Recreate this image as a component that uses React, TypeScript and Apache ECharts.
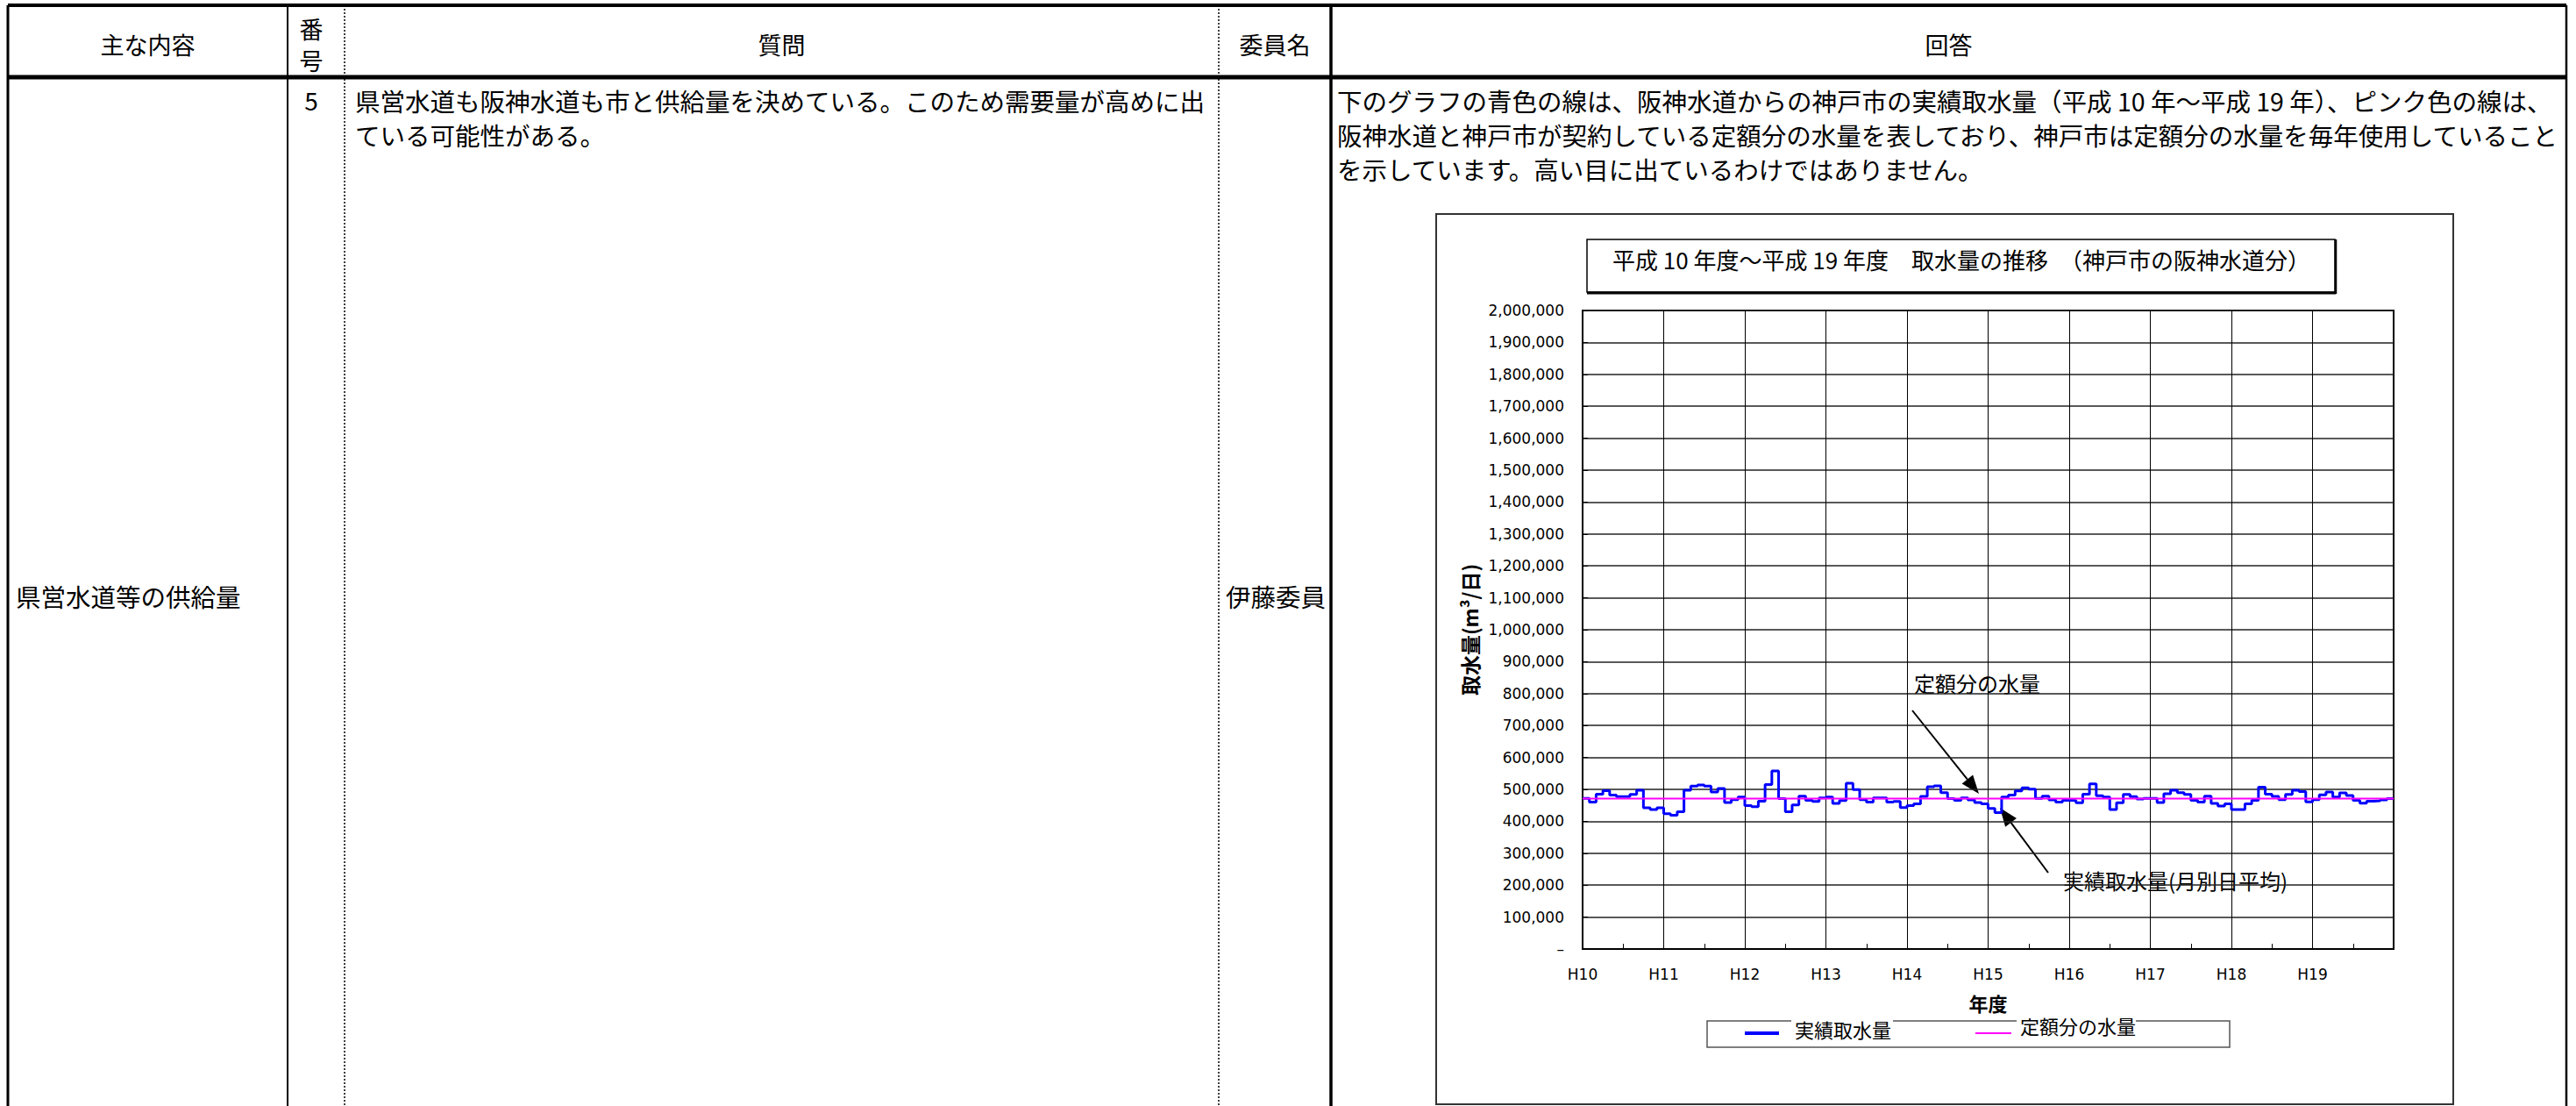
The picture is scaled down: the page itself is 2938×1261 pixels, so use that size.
import React, { useEffect, useRef } from 'react';
import * as echarts from 'echarts';

// ---- data (thousand m3/day, monthly average, April..March) ----
const yearLabels = ['H10', 'H11', 'H12', 'H13', 'H14', 'H15', 'H16', 'H17', 'H18', 'H19'];
const h10 = [472, 460, 485, 496, 482, 477, 477, 484, 497, 442, 437, 442];
const h11 = [424, 419, 430, 497, 510, 514, 510, 492, 503, 459, 468, 476];
const h12 = [449, 446, 463, 515, 558, 471, 430, 451, 479, 466, 462, 473];
const h13 = [476, 456, 465, 519, 499, 468, 460, 473, 473, 460, 462, 443];
const h14 = [449, 455, 478, 508, 511, 490, 471, 466, 473, 467, 459, 455];
const h15 = [440, 427, 476, 482, 495, 505, 501, 472, 479, 467, 460, 466];
const h16 = [465, 458, 485, 517, 480, 476, 437, 458, 484, 477, 470, 472];
const h17 = [472, 459, 486, 497, 490, 484, 466, 460, 479, 456, 448, 455];
const h18 = [437, 437, 455, 466, 507, 485, 478, 468, 484, 497, 493, 461];
const h19 = [468, 483, 492, 476, 489, 481, 466, 457, 463, 464, 467, 471];
const fixedAmount = 471000;
const yMax = 2000000;
const yStep = 100000;

const seriesNames = ['実績取水量', '定額分の水量'];
const chartTitle = '平成 10 年度～平成 19 年度　取水量の推移　（神戸市の阪神水道分）';
const yAxisName = '取水量(m³/日)';
const xAxisName = '年度';

const headerTexts = ['主な内容', '質問', '委員名', '回答'];
const questionLines = ['県営水道も阪神水道も市と供給量を決めている。このため需要量が高めに出', 'ている可能性がある。'];
const answerLines = [
  '下のグラフの青色の線は、阪神水道からの神戸市の実績取水量（平成 10 年～平成 19 年）、ピンク色の線は、',
  '阪神水道と神戸市が契約している定額分の水量を表しており、神戸市は定額分の水量を毎年使用していること',
  'を示しています。高い目に出ているわけではありません。',
];

const JP = '"Noto Sans CJK JP", sans-serif';
const NUM = '"DejaVu Sans", Verdana, sans-serif';

function ln(x1: number, y1: number, x2: number, y2: number, w: number, dash?: number[], color = '#000') {
  return { type: 'line', silent: true, shape: { x1, y1, x2, y2 }, style: { stroke: color, lineWidth: w, lineDash: dash } };
}
function tx(text: string, x: number, y: number, size: number, align = 'left', font = JP, weight = 'normal') {
  return {
    type: 'text', silent: true, x, y,
    style: { text, fontSize: size, fontFamily: font, fontWeight: weight, fill: '#000', align, verticalAlign: 'middle' },
  };
}
function arrow(sx: number, sy: number, ex: number, ey: number) {
  const dx = ex - sx, dy = ey - sy;
  const len = Math.sqrt(dx * dx + dy * dy);
  const ux = dx / len, uy = dy / len;
  const L = 21, W = 8;
  const bx = ex - ux * L, by = ey - uy * L;
  return [
    ln(sx, sy, bx, by, 2),
    {
      type: 'polygon', silent: true,
      shape: { points: [[ex, ey], [bx - uy * W, by + ux * W], [bx + uy * W, by - ux * W]] },
      style: { fill: '#000' },
    },
  ];
}

export default function App() {
  const ref = useRef<HTMLDivElement>(null);
  useEffect(() => {
    const chart = echarts.init(ref.current!, null, { renderer: 'svg' });
    const monthly = [...h10, ...h11, ...h12, ...h13, ...h14, ...h15, ...h16, ...h17, ...h18, ...h19];
    const actual: number[][] = monthly.map((v, i) => [i, v * 1000]);
    actual.push([monthly.length, monthly[monthly.length - 1] * 1000]);
    const fixed = [[0, fixedAmount], [monthly.length, fixedAmount]];

    const tableTop = 6, headerBottom = 88, H = 1261;
    const colX = [9, 328, 393, 1390, 1518, 2927];
    const numCx = 355;

    const elements: any[] = [
      // table borders
      ln(colX[0], tableTop, colX[5], tableTop, 4),
      ln(colX[0], headerBottom, colX[5], headerBottom, 5),
      ln(colX[0], tableTop, colX[0], H, 3),
      ln(colX[1], tableTop, colX[1], H, 2),
      ln(colX[2], tableTop, colX[2], H, 1.5, [2, 2]),
      ln(colX[3], tableTop, colX[3], H, 1.5, [2, 2]),
      ln(colX[4], tableTop, colX[4], H, 3.5),
      ln(colX[5], tableTop, colX[5], H, 2.5),
      // header texts
      tx(headerTexts[0], (colX[0] + colX[1]) / 2, 50, 27, 'center'),
      tx('番', numCx, 32, 27, 'center'),
      tx('号', numCx, 68, 27, 'center'),
      tx(headerTexts[1], (colX[2] + colX[3]) / 2, 50, 27, 'center'),
      tx(headerTexts[2], (colX[3] + colX[4]) / 2, 50, 27, 'center'),
      tx(headerTexts[3], (colX[4] + colX[5]) / 2, 50, 27, 'center'),
      // body
      tx('5', numCx, 114, 28, 'center'),
      tx(questionLines[0], 405, 114, 28.5),
      tx(questionLines[1], 405, 153, 28.5),
      tx('県営水道等の供給量', 18, 679, 28.5),
      tx('伊藤委員', 1398, 679, 28.5),
      tx(answerLines[0], 1525, 114, 28.5),
      tx(answerLines[1], 1525, 153, 28.5),
      tx(answerLines[2], 1525, 192, 28.5),
      // chart frame
      { type: 'rect', silent: true, shape: { x: 1638, y: 244, width: 1160, height: 1015 }, style: { fill: 'none', stroke: '#333', lineWidth: 2 } },
      // title box
      { type: 'rect', silent: true, shape: { x: 1810, y: 273, width: 853, height: 60 }, style: { fill: '#fff', stroke: '#000', lineWidth: 1.5 } },
      ln(1810, 334, 2664, 334, 3),
      ln(2664, 273, 2664, 335, 2.5),
      tx(chartTitle, 2237, 295, 26, 'center'),
      // legend
      { type: 'rect', silent: true, shape: { x: 1947, y: 1164, width: 596, height: 30 }, style: { fill: '#fff', stroke: '#555', lineWidth: 1.5 } },
      ln(1990, 1178, 2029, 1178, 4, undefined, '#0000ff'),
      ln(2253, 1178, 2294, 1178, 2, undefined, '#ff00ff'),
      { type: 'rect', silent: true, shape: { x: 2043, y: 1160, width: 116, height: 8 }, style: { fill: '#fff' } },
      { type: 'rect', silent: true, shape: { x: 2300, y: 1160, width: 136, height: 8 }, style: { fill: '#fff' } },
      tx(seriesNames[0], 2047, 1173, 22),
      tx(seriesNames[1], 2304, 1169, 22),
      // annotations
      tx('定額分の水量', 2183, 778, 24),
      tx('実績取水量(月別日平均)', 2353, 1003, 24),
      ...arrow(2181, 810, 2257, 905),
      ...arrow(2336, 995, 2281, 921),
    ];

    chart.setOption({
      animation: false,
      backgroundColor: '#fff',
      grid: {
        left: 1805, top: 354, width: 925, height: 728,
        show: true, borderColor: '#000', borderWidth: 2, backgroundColor: 'transparent',
      },
      xAxis: {
        type: 'value', min: 0, max: monthly.length, interval: 12,
        name: xAxisName, nameLocation: 'middle', nameGap: 50,
        nameTextStyle: { fontFamily: JP, fontSize: 22, fontWeight: 'bold', color: '#000' },
        axisLine: { show: true, lineStyle: { color: '#000', width: 2 } },
        axisTick: { show: true, inside: true, length: 6, lineStyle: { color: '#000' } },
        minorTick: { show: true, splitNumber: 2, length: 6, lineStyle: { color: '#000', width: 1 } },
        axisLabel: {
          formatter: (v: number) => yearLabels[v / 12] ?? '',
          color: '#000', fontSize: 17, fontFamily: NUM, margin: 20,
        },
        splitLine: { show: true, lineStyle: { color: '#000', width: 1 } },
      },
      yAxis: {
        type: 'value', min: 0, max: yMax, interval: yStep,
        name: yAxisName, nameLocation: 'middle', nameGap: 118,
        nameTextStyle: { fontFamily: JP, fontSize: 23, fontWeight: 'bold', color: '#000' },
        axisLine: { show: true, lineStyle: { color: '#000', width: 2 } },
        axisTick: { show: true, inside: true, length: 6, lineStyle: { color: '#000' } },
        axisLabel: {
          formatter: (v: number) => (v === 0 ? '–' : v.toLocaleString('en-US')),
          color: '#000', fontSize: 17, fontFamily: NUM, margin: 21,
        },
        splitLine: { show: true, lineStyle: { color: '#222', width: 1.5 } },
      },
      series: [
        {
          name: seriesNames[0], type: 'line', step: 'end', data: actual, showSymbol: false, symbol: 'none',
          lineStyle: { color: '#0000ff', width: 3 }, z: 3,
        },
        {
          name: seriesNames[1], type: 'line', data: fixed, showSymbol: false, symbol: 'none',
          lineStyle: { color: '#ff00ff', width: 2 }, z: 4,
        },
      ],
      graphic: { elements },
    });
    return () => chart.dispose();
  }, []);
  return (
    <div
      ref={ref}
      style={{ position: 'absolute', left: 0, top: 0, width: 2938, height: 1261, background: '#fff' }}
    />
  );
}
